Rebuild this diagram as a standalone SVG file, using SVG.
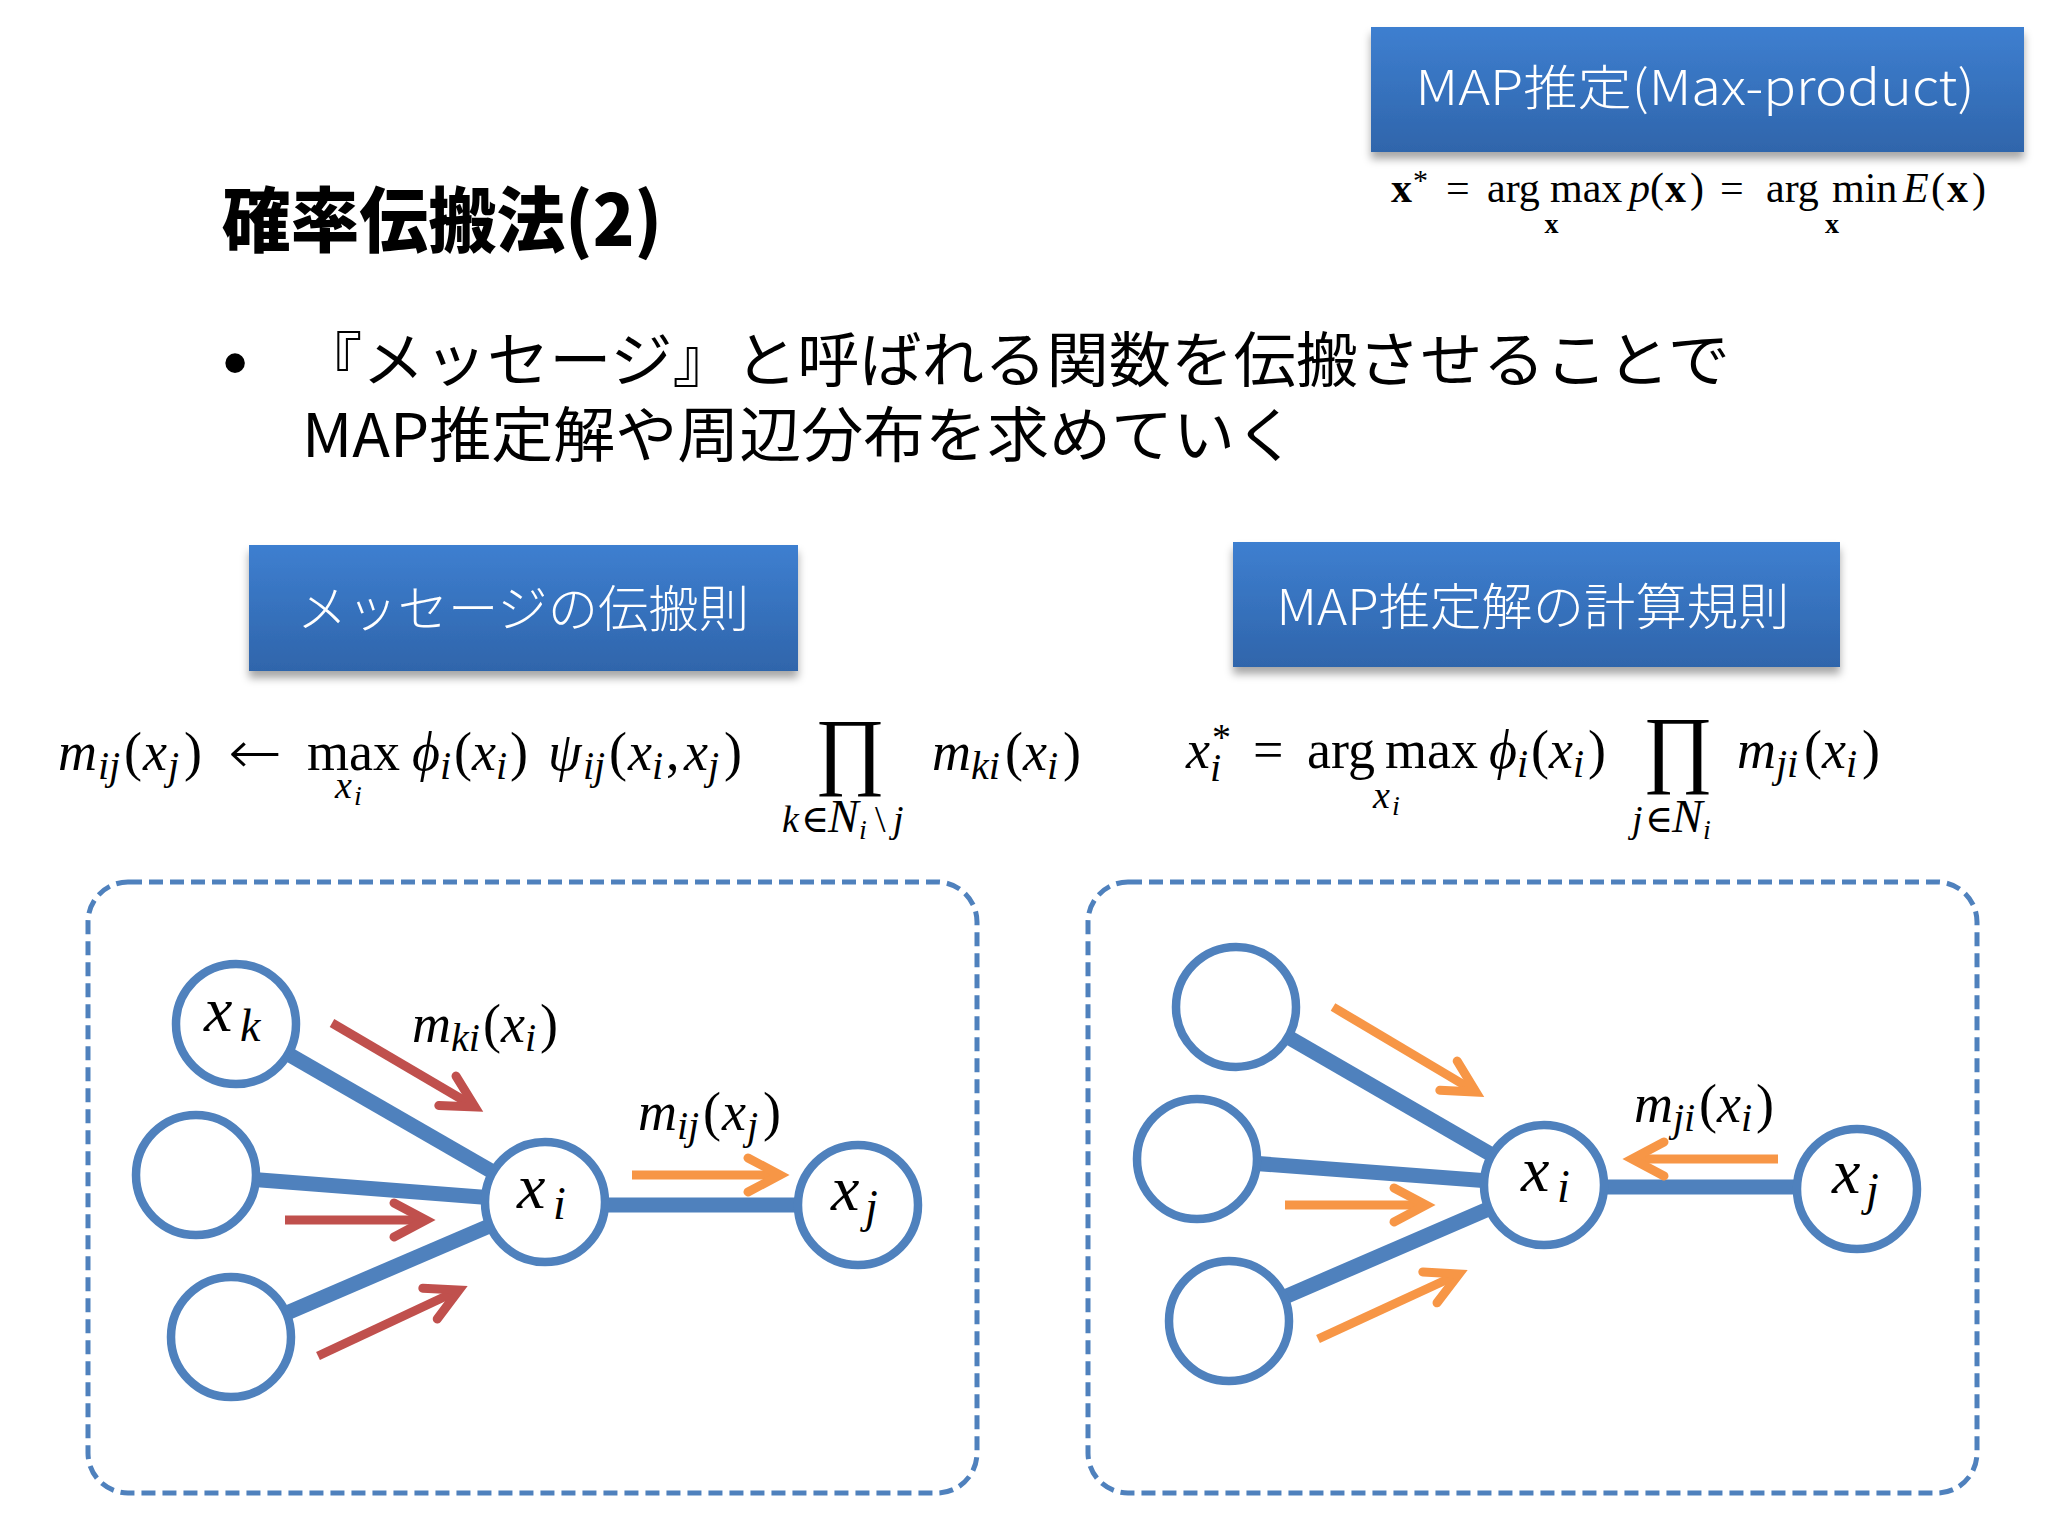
<svg xmlns="http://www.w3.org/2000/svg" width="2048" height="1536" viewBox="0 0 2048 1536">
<defs>
  <style>
    .jp { font-family: "Noto Sans CJK JP", "Noto Sans", sans-serif; }
    .boxtext { font-family: "Noto Sans CJK JP", "Noto Sans", sans-serif; fill: #ffffff; font-size: 50px; font-weight: 300; text-anchor: middle; }
    .math { font-family: "Liberation Serif", "DejaVu Serif", serif; fill: #000000; }
    .it { font-style: italic; }
    .bf { font-weight: bold; }
    .panel { fill: #ffffff; stroke: #4f81bd; stroke-width: 5; stroke-dasharray: 14 7; }
    .edge { stroke: #4f81bd; stroke-width: 15; fill: none; }
    .node circle { fill: #ffffff; stroke: #4f81bd; stroke-width: 8.5; }
    .red { stroke: #c0504d; stroke-width: 9; fill: none; marker-end: url(#ahRed); }
    .orange { stroke: #f79646; stroke-width: 9; fill: none; marker-end: url(#ahOrange); }
    .hdr { fill: url(#boxGrad); filter: url(#shadow); }
  </style>
  <linearGradient id="boxGrad" x1="0" y1="0" x2="0" y2="1">
    <stop offset="0" stop-color="#3e7fd0"/>
    <stop offset="1" stop-color="#2f65ab"/>
  </linearGradient>
  <filter id="shadow" x="-5%" y="-10%" width="110%" height="140%">
    <feDropShadow dx="0" dy="7" stdDeviation="4" flood-color="#000000" flood-opacity="0.35"/>
  </filter>
  <marker id="ahRed" markerUnits="userSpaceOnUse" viewBox="-45 -28 60 56" markerWidth="60" markerHeight="56" refX="0" refY="0" orient="auto" overflow="visible">
    <path d="M-32,-17 L0,0 L-32,17" fill="none" stroke="#c0504d" stroke-width="9" stroke-linecap="round" stroke-linejoin="miter"/>
  </marker>
  <marker id="ahOrange" markerUnits="userSpaceOnUse" viewBox="-45 -28 60 56" markerWidth="60" markerHeight="56" refX="0" refY="0" orient="auto" overflow="visible">
    <path d="M-32,-17 L0,0 L-32,17" fill="none" stroke="#f79646" stroke-width="9" stroke-linecap="round" stroke-linejoin="miter"/>
  </marker>
</defs>

<rect x="0" y="0" width="2048" height="1536" fill="#ffffff"/>

<!-- Header: MAP推定(Max-product) -->
<g id="hdr-map">
  <rect class="hdr" x="1371" y="27" width="653" height="125"/>
  <text class="boxtext" x="1695" y="105" style="font-size:48px" textLength="559" lengthAdjust="spacingAndGlyphs">MAP推定(Max-product)</text>
</g>

<!-- top formula -->
<g id="formula-top">
  <text class="math" font-size="42">
    <tspan class="bf" x="1391" y="202">x</tspan>
    <tspan x="1413" y="190" font-size="30">*</tspan>
    <tspan x="1446" y="202">=</tspan>
    <tspan x="1487" y="202">arg</tspan>
    <tspan x="1550" y="202">max</tspan>
    <tspan class="it" x="1629" y="202">p</tspan>
    <tspan x="1650" y="202">(</tspan>
    <tspan class="bf" x="1665" y="202">x</tspan>
    <tspan x="1690" y="202">)</tspan>
    <tspan x="1720" y="202">=</tspan>
    <tspan x="1766" y="202">arg</tspan>
    <tspan x="1832" y="202">min</tspan>
    <tspan class="it" x="1903" y="202">E</tspan>
    <tspan x="1931" y="202">(</tspan>
    <tspan class="bf" x="1947" y="202">x</tspan>
    <tspan x="1972" y="202">)</tspan>
  </text>
  <text class="math bf" font-size="28" text-anchor="middle">
    <tspan x="1555" y="233">x</tspan>
    <tspan x="1832" y="233">x</tspan>
  </text>
</g>

<!-- Title -->
<text id="title" class="jp" x="222" y="246" font-size="71" font-weight="900" fill="#000000" textLength="440" lengthAdjust="spacingAndGlyphs">確率伝搬法(2)</text>

<!-- Bullet text -->
<g id="bullet">
  <text x="235" y="387" font-family="Liberation Sans, sans-serif" font-size="72" text-anchor="middle" fill="#000000">•</text>
  <text class="jp" x="300" y="382" font-size="60" fill="#000000" textLength="1430" lengthAdjust="spacingAndGlyphs">『メッセージ』と呼ばれる関数を伝搬させることで</text>
  <text class="jp" x="302" y="457" font-size="60" fill="#000000" textLength="995" lengthAdjust="spacingAndGlyphs">MAP推定解や周辺分布を求めていく</text>
</g>

<!-- Section headers -->
<g id="hdr-message">
  <rect class="hdr" x="249" y="545" width="549" height="126"/>
  <text class="boxtext" x="523" y="627" textLength="452" lengthAdjust="spacingAndGlyphs">メッセージの伝搬則</text>
</g>
<g id="hdr-mapcalc">
  <rect class="hdr" x="1233" y="542" width="607" height="125"/>
  <text class="boxtext" x="1533" y="625" textLength="513" lengthAdjust="spacingAndGlyphs">MAP推定解の計算規則</text>
</g>

<!-- Left formula -->
<g id="formula-left">
  <text class="math" font-size="54">
    <tspan class="it" x="58" y="770">m</tspan>
    <tspan class="it" x="98" y="779" font-size="40">ij</tspan>
    <tspan x="124" y="770">(</tspan>
    <tspan class="it" x="143" y="770">x</tspan>
    <tspan class="it" x="168" y="779" font-size="40">j</tspan>
    <tspan x="184" y="770">)</tspan>
    <tspan x="307" y="770">max</tspan>
    <tspan class="it" x="412" y="770">ϕ</tspan>
    <tspan class="it" x="440" y="779" font-size="40">i</tspan>
    <tspan x="454" y="770">(</tspan>
    <tspan class="it" x="472" y="770">x</tspan>
    <tspan class="it" x="496" y="779" font-size="40">i</tspan>
    <tspan x="510" y="770">)</tspan>
    <tspan class="it" x="548" y="770">ψ</tspan>
    <tspan class="it" x="583" y="779" font-size="40">ij</tspan>
    <tspan x="609" y="770">(</tspan>
    <tspan class="it" x="628" y="770">x</tspan>
    <tspan class="it" x="652" y="779" font-size="40">i</tspan>
    <tspan x="666" y="770">,</tspan>
    <tspan class="it" x="684" y="770">x</tspan>
    <tspan class="it" x="708" y="779" font-size="40">j</tspan>
    <tspan x="724" y="770">)</tspan>
    <tspan class="it" x="932" y="770">m</tspan>
    <tspan class="it" x="971" y="779" font-size="40">ki</tspan>
    <tspan x="1005" y="770">(</tspan>
    <tspan class="it" x="1023" y="770">x</tspan>
    <tspan class="it" x="1047" y="779" font-size="40">i</tspan>
    <tspan x="1063" y="770">)</tspan>
  </text>
  <text x="228" y="773" font-family="DejaVu Sans, sans-serif" font-weight="200" font-size="60" textLength="54" lengthAdjust="spacingAndGlyphs" fill="#000000">←</text>
  <text class="math" font-size="86" x="850" y="778" text-anchor="middle">∏</text>
  <text class="math it" font-size="38">
    <tspan x="335" y="798">x</tspan>
    <tspan x="354" y="805" font-size="28">i</tspan>
    <tspan x="782" y="832">k</tspan>
    <tspan x="801" y="832" font-style="normal">∈</tspan>
    <tspan x="828" y="832" font-size="46">N</tspan>
    <tspan x="859" y="839" font-size="28">i</tspan>
    <tspan x="875" y="832" font-style="normal">\</tspan>
    <tspan x="893" y="832">j</tspan>
  </text>
</g>

<!-- Right formula -->
<g id="formula-right">
  <text class="math" font-size="54">
    <tspan class="it" x="1186" y="768">x</tspan>
    <tspan class="it" x="1210" y="781" font-size="40">i</tspan>
    <tspan x="1212" y="750" font-size="38">*</tspan>
    <tspan x="1253" y="768">=</tspan>
    <tspan x="1307" y="768">arg</tspan>
    <tspan x="1385" y="768">max</tspan>
    <tspan class="it" x="1489" y="768">ϕ</tspan>
    <tspan class="it" x="1517" y="777" font-size="40">i</tspan>
    <tspan x="1531" y="768">(</tspan>
    <tspan class="it" x="1549" y="768">x</tspan>
    <tspan class="it" x="1573" y="777" font-size="40">i</tspan>
    <tspan x="1588" y="768">)</tspan>
    <tspan class="it" x="1737" y="768">m</tspan>
    <tspan class="it" x="1776" y="777" font-size="40">ji</tspan>
    <tspan x="1804" y="768">(</tspan>
    <tspan class="it" x="1822" y="768">x</tspan>
    <tspan class="it" x="1846" y="777" font-size="40">i</tspan>
    <tspan x="1862" y="768">)</tspan>
  </text>
  <text class="math" font-size="86" x="1678" y="776" text-anchor="middle">∏</text>
  <text class="math it" font-size="38">
    <tspan x="1373" y="808">x</tspan>
    <tspan x="1392" y="815" font-size="28">i</tspan>
    <tspan x="1632" y="832">j</tspan>
    <tspan x="1645" y="832" font-style="normal">∈</tspan>
    <tspan x="1672" y="832" font-size="46">N</tspan>
    <tspan x="1703" y="839" font-size="28">i</tspan>
  </text>
</g>

<!-- Panels -->
<rect id="panel-left" class="panel" x="88" y="882" width="889" height="611" rx="40" ry="40"/>
<rect id="panel-right" class="panel" x="1088" y="882" width="889" height="611" rx="40" ry="40"/>

<!-- Connectors -->
<g id="connectors">
  <line class="edge" x1="236" y1="1024" x2="545" y2="1202"/>
  <line class="edge" x1="196" y1="1175" x2="545" y2="1202"/>
  <line class="edge" x1="231" y1="1337" x2="545" y2="1202"/>
  <line class="edge" x1="545" y1="1205" x2="858" y2="1205"/>
  <line class="edge" x1="1236" y1="1007" x2="1544" y2="1185"/>
  <line class="edge" x1="1197" y1="1159" x2="1544" y2="1185"/>
  <line class="edge" x1="1229" y1="1321" x2="1544" y2="1185"/>
  <line class="edge" x1="1544" y1="1187" x2="1857" y2="1187"/>
</g>

<!-- Left panel nodes -->
<g id="node-xk" class="node">
  <circle cx="236" cy="1024" r="60"/>
  <text class="math it" font-size="64"><tspan x="204" y="1031">x</tspan><tspan x="240" y="1041" font-size="46">k</tspan></text>
</g>
<g id="node-l-mid" class="node"><circle cx="196" cy="1175" r="60"/></g>
<g id="node-l-bot" class="node"><circle cx="231" cy="1337" r="60"/></g>
<g id="node-xi-left" class="node">
  <circle cx="545" cy="1202" r="60"/>
  <text class="math it" font-size="64"><tspan x="517" y="1208">x</tspan><tspan x="553" y="1219" font-size="46">i</tspan></text>
</g>
<g id="node-xj-left" class="node">
  <circle cx="858" cy="1205" r="60"/>
  <text class="math it" font-size="64"><tspan x="831" y="1210">x</tspan><tspan x="865" y="1222" font-size="46">j</tspan></text>
</g>

<!-- Right panel nodes -->
<g id="node-r-top" class="node"><circle cx="1236" cy="1007" r="60"/></g>
<g id="node-r-mid" class="node"><circle cx="1197" cy="1159" r="60"/></g>
<g id="node-r-bot" class="node"><circle cx="1229" cy="1321" r="60"/></g>
<g id="node-xi-right" class="node">
  <circle cx="1544" cy="1185" r="60"/>
  <text class="math it" font-size="64"><tspan x="1521" y="1191">x</tspan><tspan x="1557" y="1202" font-size="46">i</tspan></text>
</g>
<g id="node-xj-right" class="node">
  <circle cx="1857" cy="1189" r="60"/>
  <text class="math it" font-size="64"><tspan x="1832" y="1193">x</tspan><tspan x="1866" y="1205" font-size="46">j</tspan></text>
</g>

<!-- Message arrows -->
<g id="messages">
  <line class="red" x1="332" y1="1023" x2="475" y2="1107"/>
  <line class="red" x1="285" y1="1220" x2="426" y2="1220"/>
  <line class="red" x1="318" y1="1356" x2="459" y2="1290"/>
  <line class="orange" x1="632" y1="1175" x2="780" y2="1175"/>
  <line class="orange" x1="1333" y1="1007" x2="1476" y2="1092"/>
  <line class="orange" x1="1285" y1="1205" x2="1426" y2="1205"/>
  <line class="orange" x1="1318" y1="1339" x2="1459" y2="1274"/>
  <line class="orange" x1="1778" y1="1159" x2="1632" y2="1159"/>
</g>

<!-- Message labels -->
<g id="labels">
  <text class="math it" font-size="54">
    <tspan x="412" y="1042">m</tspan><tspan x="451" y="1051" font-size="40">ki</tspan><tspan x="483" y="1042" font-style="normal">(</tspan><tspan x="501" y="1042">x</tspan><tspan x="525" y="1051" font-size="40">i</tspan><tspan x="540" y="1042" font-style="normal">)</tspan>
  </text>
  <text class="math it" font-size="54">
    <tspan x="638" y="1130">m</tspan><tspan x="677" y="1139" font-size="40">ij</tspan><tspan x="703" y="1130" font-style="normal">(</tspan><tspan x="722" y="1130">x</tspan><tspan x="747" y="1139" font-size="40">j</tspan><tspan x="763" y="1130" font-style="normal">)</tspan>
  </text>
  <text class="math it" font-size="54">
    <tspan x="1634" y="1122">m</tspan><tspan x="1673" y="1131" font-size="40">ji</tspan><tspan x="1699" y="1122" font-style="normal">(</tspan><tspan x="1717" y="1122">x</tspan><tspan x="1741" y="1131" font-size="40">i</tspan><tspan x="1756" y="1122" font-style="normal">)</tspan>
  </text>
</g>
</svg>
